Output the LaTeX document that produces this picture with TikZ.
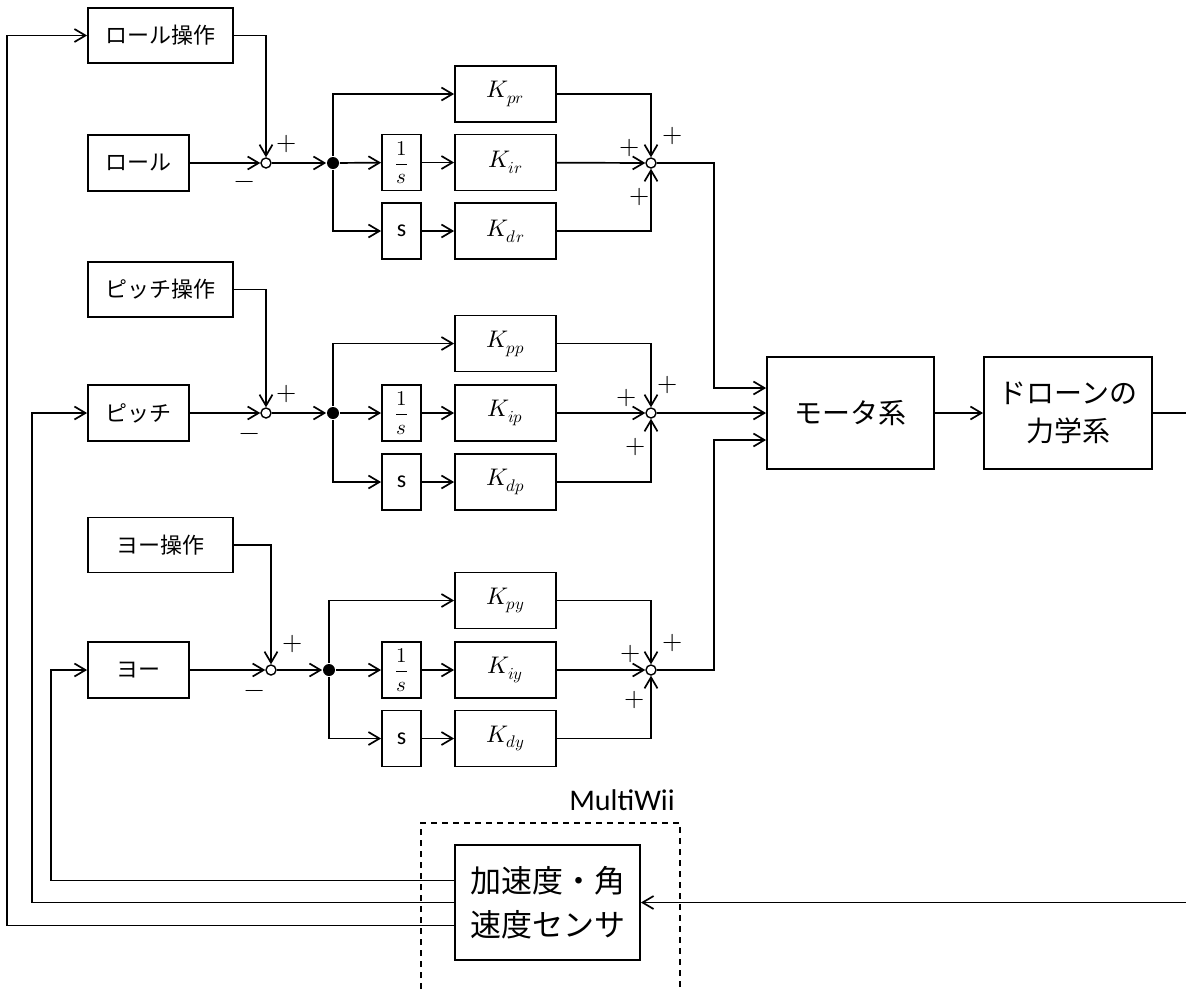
\documentclass[tikz,border=0pt]{standalone}
\usepackage{fontspec}
\usepackage{unicode-math}
\setmathfont{Latin Modern Math}
\usetikzlibrary{arrows.meta,calc}
\newfontfamily\jpfont{Noto Sans CJK JP}
\newfontfamily\carl{Carlito}
\begin{document}
\begin{tikzpicture}[x=1pt,y=-1pt,line width=1.7pt,
  arr/.style={-{Straight Barb[length=11pt,width=13pt,line width=1.7pt]}},
  blk/.style={draw,line width=1.8pt,inner sep=0pt,align=center},
  ctl/.style={blk,minimum width=145pt,minimum height=55pt,font=\jpfont\fontsize{22}{26}\selectfont},
  inb/.style={blk,minimum width=101pt,minimum height=56pt,font=\jpfont\fontsize{22}{26}\selectfont},
  kb/.style={blk,minimum width=101pt,minimum height=56pt,font=\fontsize{24}{28}\selectfont},
  sbx/.style={blk,minimum width=39pt,minimum height=56pt,font=\carl\fontsize{24}{28}\selectfont},
  ib/.style={blk,minimum width=39pt,minimum height=56pt,font=\fontsize{21}{24}\selectfont},
  big/.style={blk,minimum width=167pt,minimum height=112pt,font=\jpfont\fontsize{28}{38}\selectfont},
  sumj/.style={circle,draw,fill=white,line width=1.4pt,minimum size=10pt,inner sep=0pt},
  dotj/.style={circle,fill=black,minimum size=12pt,inner sep=0pt},
  sgn/.style={inner sep=0pt,font=\fontsize{26}{28}\selectfont}]
\useasboundingbox (0,0) rectangle (1186,989);
% ---------- roll ----------
\node[ctl] (rop) at (160.5,35.5) {ロール操作};
\node[inb] (rin) at (138.5,163) {ロール};
\node[sumj] (rs1) at (266,163) {};
\node[dotj] (rd) at (333,163) {};
\node[ib] (ri) at (401.5,162.5) {$\dfrac{1}{s}$};
\node[sbx] (rsb) at (401.5,231) {s};
\node[kb] (Kpr) at (505.5,94) {$K_{pr}$};
\node[kb] (Kir) at (505.5,162.5) {$K_{ir}$};
\node[kb] (Kdr) at (505.5,231) {$K_{dr}$};
\node[sumj] (rs2) at (651,163) {};
\node[sgn] (rp1) at (287,144) {$+$};
\node[sgn] (rm1) at (245,185) {$-$};
\node[sgn] (rp2) at (630,148) {$+$};
\node[sgn] (rp3) at (673,136) {$+$};
\node[sgn] (rp4) at (640,197) {$+$};
% ---------- pitch ----------
\node[ctl] (pop) at (160.5,289.5) {ピッチ操作};
\node[inb] (pin) at (138.5,413) {ピッチ};
\node[sumj] (ps1) at (266,413) {};
\node[dotj] (pd) at (333,413) {};
\node[ib] (pi) at (401.5,413) {$\dfrac{1}{s}$};
\node[sbx] (psb) at (401.5,482) {s};
\node[kb] (Kpp) at (505.5,343.5) {$K_{pp}$};
\node[kb] (Kip) at (505.5,413) {$K_{ip}$};
\node[kb] (Kdp) at (505.5,482) {$K_{dp}$};
\node[sumj] (ps2) at (651,413) {};
\node[sgn] (pp1) at (287,394) {$+$};
\node[sgn] (pm1) at (250,437) {$-$};
\node[sgn] (pp2) at (627,398) {$+$};
\node[sgn] (pp3) at (668,385) {$+$};
\node[sgn] (pp4) at (636,447) {$+$};
% ---------- yaw ----------
\node[ctl] (yop) at (160.5,545) {ヨー操作};
\node[inb] (yin) at (138.5,670) {ヨー};
\node[sumj] (ys1) at (271,670) {};
\node[dotj] (yd) at (329,670) {};
\node[ib] (yi) at (401.5,670) {$\dfrac{1}{s}$};
\node[sbx] (ysb) at (401.5,738.5) {s};
\node[kb] (Kpy) at (505.5,600.5) {$K_{py}$};
\node[kb] (Kiy) at (505.5,670) {$K_{iy}$};
\node[kb] (Kdy) at (505.5,738.5) {$K_{dy}$};
\node[sumj] (ys2) at (651,670) {};
\node[sgn] (yp1) at (293,644) {$+$};
\node[sgn] (ym1) at (255,694) {$-$};
\node[sgn] (yp2) at (631,654) {$+$};
\node[sgn] (yp3) at (673,643) {$+$};
\node[sgn] (yp4) at (635,700) {$+$};
% ---------- plant ----------
\node[big] (motor) at (850.5,413) {モータ系};
\node[big,minimum width=168pt] (drone) at (1068,413) {ドローンの\\力学系};
\node[blk,minimum width=185pt,minimum height=115pt,font=\jpfont\fontsize{31}{44}\selectfont] (sensor) at (547.5,902.5) {加速度・角\\速度センサ};
\node[inner sep=0pt,font=\carl\fontsize{30}{34}\selectfont] (mw) at (622,800) {MultiWii};
\coordinate (outR) at (1186,413);
\coordinate (inR) at (1186,902.5);
\draw[line width=1.4pt,dash pattern=on 6pt off 5pt] (421,989) |- (680,823) -- (680,989);
% ---------- connectors ----------
\foreach \opn/\inp/\suma/\dt/\ix/\sbb/\kpn/\kin/\kdn/\sumb in
  {rop/rin/rs1/rd/ri/rsb/Kpr/Kir/Kdr/rs2, pop/pin/ps1/pd/pi/psb/Kpp/Kip/Kdp/ps2, yop/yin/ys1/yd/yi/ysb/Kpy/Kiy/Kdy/ys2}{
  \draw[arr] (\opn.east) -| (\suma);
  \draw[arr] (\inp) -- (\suma);
  \draw[arr] (\suma) -- (\dt);
  \draw[arr] (\dt) |- (\kpn);
  \draw[arr] (\dt) -- (\ix);
  \draw[arr] (\dt) |- (\sbb);
  \draw[arr] (\ix) -- (\kin);
  \draw[arr] (\sbb) -- (\kdn);
  \draw[arr] (\kpn) -| (\sumb);
  \draw[arr] (\kin) -- (\sumb);
  \draw[arr] (\kdn) -| (\sumb);
}
\draw[arr] (rs2.east) -- ++(57.5,0) |- ([yshift=25pt]motor.west);
\draw[arr] (ps2) -- (motor.west);
\draw[arr] (ys2.east) -- ++(57.5,0) |- ([yshift=-27pt]motor.west);
\draw[arr] (motor) -- (drone);
\draw (drone.east) -- (outR);
\draw[arr] (inR) -- (sensor.east);
\draw[arr] ([yshift=22pt]sensor.west) -| ($(yin.west)+(-36,0)$) -- (yin.west);
\draw[arr] (sensor.west) -| ($(pin.west)+(-55,0)$) -- (pin.west);
\draw[arr] ([yshift=-23pt]sensor.west) -| ($(rop.west)+(-80,0)$) -- (rop.west);
\end{tikzpicture}
\end{document}
